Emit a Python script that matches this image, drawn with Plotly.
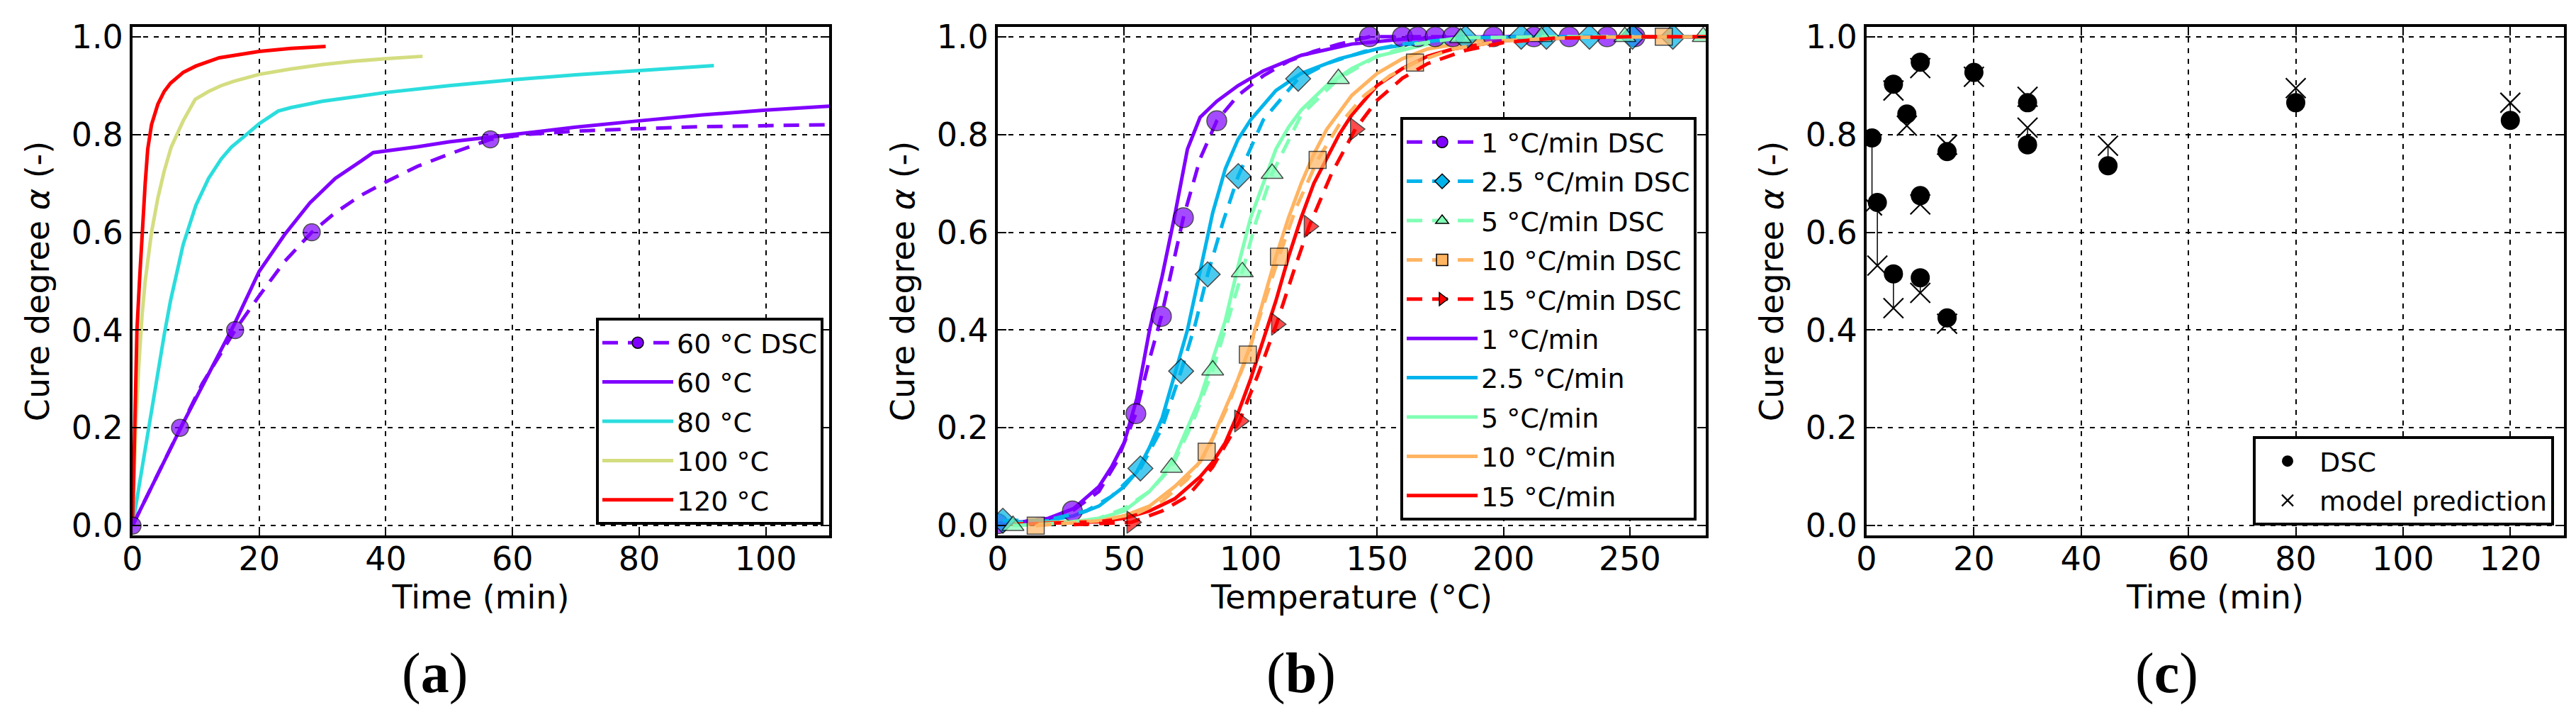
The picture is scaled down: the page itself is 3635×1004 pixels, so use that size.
import plotly.graph_objects as go

# ---------------- Panel (a): isothermal cure ----------------
a_t60_model = [0, 4, 8, 12, 16, 20, 24, 28, 32, 36, 38, 45, 50, 60, 70, 80, 90, 100, 110]
a_a60_model = [0, 0.105, 0.21, 0.31, 0.41, 0.52, 0.595, 0.66, 0.71, 0.745, 0.763, 0.775, 0.785,
               0.80, 0.815, 0.828, 0.84, 0.85, 0.858]
a_t80 = [0, 1, 2, 3, 4, 5, 6, 7, 8, 10, 12, 14, 15.6, 18, 20, 23, 25, 30, 40, 50, 60, 70, 80, 91.8]
a_a80 = [0, 0.08, 0.16, 0.24, 0.32, 0.39, 0.46, 0.52, 0.575, 0.655, 0.71, 0.75, 0.774, 0.80,
         0.822, 0.848, 0.855, 0.868, 0.886, 0.90, 0.912, 0.922, 0.93, 0.941]
a_t100 = [0, 0.5, 1, 1.5, 2, 3, 4, 5, 6.1, 7, 8, 9.9, 12, 14, 16, 20, 25, 30, 35, 40, 45.8]
a_a100 = [0, 0.2, 0.33, 0.43, 0.5, 0.6, 0.67, 0.725, 0.774, 0.80, 0.828, 0.872, 0.888, 0.90,
          0.909, 0.923, 0.934, 0.943, 0.95, 0.955, 0.96]
a_t120 = [0, 0.3, 0.7, 1.1, 1.5, 2.0, 2.4, 3, 4, 5, 6, 8, 10, 13.7, 20, 25, 30.5]
a_a120 = [0, 0.2, 0.4, 0.5, 0.6, 0.7, 0.77, 0.82, 0.862, 0.888, 0.905, 0.927, 0.94, 0.957,
          0.97, 0.976, 0.98]
a_dsc60_t = [0, 3, 7.5, 11, 16.2, 20, 24, 28.3, 32, 36, 40, 45, 50, 56.5, 62, 70, 80, 90, 100, 110]
a_dsc60_a = [0, 0.08, 0.2, 0.29, 0.4, 0.47, 0.54, 0.6, 0.64, 0.675, 0.703, 0.735, 0.76, 0.79,
             0.80, 0.807, 0.812, 0.816, 0.818, 0.82]
a_dsc60_marks = [0, 7.5, 16.2, 28.3, 56.5]

# ---------------- Panel (b): dynamic (heating-rate) cure ----------------
b_m1_T = [0, 10, 20, 30, 40, 45, 50, 55, 60, 65, 70, 75, 80, 86.6, 95, 105, 120, 140, 160, 180, 200, 280]
b_m1_a = [0.005, 0.008, 0.015, 0.035, 0.08, 0.12, 0.17, 0.26, 0.40, 0.51, 0.635, 0.77, 0.835, 0.868,
          0.90, 0.93, 0.962, 0.985, 0.995, 0.999, 1.0, 1.0]
b_m25_T = [0, 20, 30, 40, 50, 55, 60, 65, 70, 75, 80, 85, 90, 95, 100, 110, 120, 135, 150, 170, 200, 280]
b_m25_a = [0.005, 0.01, 0.02, 0.04, 0.08, 0.11, 0.16, 0.22, 0.31, 0.40, 0.52, 0.64, 0.73, 0.79, 0.83,
           0.89, 0.925, 0.955, 0.975, 0.99, 0.998, 1.0]
b_m5_T = [0, 30, 40, 50, 60, 65, 70, 75, 80, 85, 90, 95, 100, 105, 110, 115, 120, 130, 140, 150, 170, 200, 280]
b_m5_a = [0.003, 0.008, 0.015, 0.03, 0.07, 0.1, 0.14, 0.2, 0.26, 0.34, 0.42, 0.53, 0.63, 0.70, 0.77,
          0.815, 0.85, 0.90, 0.935, 0.96, 0.985, 0.997, 1.0]
b_m10_T = [0, 40, 50, 60, 70, 80, 85, 90, 95, 100, 105, 110, 115, 120, 125, 130, 140, 150, 160, 170, 190, 220, 280]
b_m10_a = [0.002, 0.01, 0.02, 0.04, 0.08, 0.13, 0.18, 0.24, 0.30, 0.37, 0.46, 0.55, 0.63, 0.70, 0.76,
           0.81, 0.88, 0.925, 0.955, 0.975, 0.992, 0.999, 1.0]
b_m15_T = [0, 40, 50, 60, 70, 80, 85, 90, 95, 100, 105, 110, 115, 120, 125, 130, 135, 140, 150, 160,
           170, 180, 200, 230, 280]
b_m15_a = [0.002, 0.008, 0.015, 0.03, 0.055, 0.10, 0.13, 0.17, 0.23, 0.30, 0.38, 0.46, 0.55, 0.63,
           0.70, 0.75, 0.80, 0.84, 0.90, 0.935, 0.96, 0.975, 0.992, 0.999, 1.0]

b_d1_T = [0, 10, 20, 29.5, 40, 47, 54.6, 60, 64.7, 69, 73.4, 80, 86.6, 95, 105, 115, 125, 135,
          147, 160, 166, 173, 180, 196, 212, 226, 241, 252, 265, 280]
b_d1_a = [0.004, 0.008, 0.015, 0.03, 0.07, 0.13, 0.229, 0.34, 0.428, 0.53, 0.63, 0.75, 0.828, 0.88,
          0.92, 0.95, 0.97, 0.985, 1.0, 1.0, 1.0, 1.0, 1.0, 1.0, 1.0, 1.0, 1.0, 1.0, 1.0, 1.0]
b_d1_marks = [0, 29.5, 54.6, 64.7, 73.4, 86.6, 147, 160, 166, 173, 180, 196, 212, 226, 241, 252]
b_d25_T = [2, 20, 35, 45, 56.4, 65, 72.5, 78, 83, 89, 95.1, 105, 118.8, 130, 145, 160, 185, 207,
           217, 234, 251, 267, 280]
b_d25_a = [0.01, 0.012, 0.03, 0.06, 0.117, 0.2, 0.316, 0.41, 0.514, 0.62, 0.715, 0.83, 0.914, 0.945,
           0.97, 0.985, 0.998, 1.0, 1.0, 1.0, 1.0, 1.0, 1.0]
b_d25_marks = [2, 56.4, 72.5, 83, 95.1, 118.8, 185, 207, 217, 234, 251, 267]
b_d5_T = [6, 25, 40, 50, 60, 68.7, 77, 85, 91, 96.7, 102, 108.5, 120, 134.7, 150, 165, 183, 215, 248, 279]
b_d5_a = [0.0, 0.005, 0.015, 0.035, 0.07, 0.119, 0.21, 0.318, 0.42, 0.519, 0.62, 0.72, 0.84, 0.914,
          0.96, 0.985, 0.998, 1.0, 1.0, 1.0]
b_d5_marks = [6, 68.7, 85, 96.7, 108.5, 134.7, 183, 215, 248, 279]
b_d10_T = [15, 40, 55, 65, 75, 82.6, 91, 98.9, 105, 111.2, 118, 126.5, 135, 145, 155, 165, 180, 200,
           230, 263.4, 280]
b_d10_a = [0.0, 0.01, 0.025, 0.05, 0.095, 0.151, 0.245, 0.35, 0.45, 0.55, 0.65, 0.748, 0.82, 0.88,
           0.92, 0.947, 0.975, 0.992, 0.999, 1.0, 1.0]
b_d10_marks = [15, 82.6, 98.9, 111.2, 126.5, 165, 263.4]
b_d15_T = [30, 53, 65, 75, 85, 95.6, 103, 110.2, 117, 123.1, 132, 141.4, 150, 160, 170, 185, 200,
           220, 250, 280]
b_d15_a = [0.002, 0.007, 0.03, 0.06, 0.12, 0.214, 0.31, 0.412, 0.52, 0.612, 0.72, 0.811, 0.87, 0.915,
           0.945, 0.972, 0.988, 0.997, 1.0, 1.0]
b_d15_marks = [53, 95.6, 110.2, 123.1, 141.4]

# ---------------- Panel (c): validation ----------------
c_t = [1, 2, 5, 5, 7.5, 10, 10, 10, 15, 15, 20, 30, 30, 45, 80, 120]
c_dsc = [0.793, 0.661, 0.903, 0.515, 0.842, 0.948, 0.675, 0.507, 0.765, 0.425, 0.927, 0.865,
         0.779, 0.736, 0.865, 0.829]
c_model = [0.655, 0.532, 0.89, 0.445, 0.818, 0.936, 0.657, 0.476, 0.779, 0.413, 0.918, 0.877,
           0.814, 0.777, 0.895, 0.865]

# ---------------- Styling ----------------
W, H = 3635, 1004
FONT = "DejaVu Sans"
C0, C1, C2, C3 = "#8000ff", "#2bdddd", "#d4dd80", "#ff0000"
R1, R2, R3, R4, R5 = "#8000ff", "#00b4eb", "#80ffb4", "#ffb462", "#ff0000"
LW = 5
DASH = "22px,14px"

fig = go.Figure()


def dsc_traces(T, A, marks, color, symbol, size, name, xa, ya, legend, rank):
    msize = [size if t in marks else 0 for t in T]
    mlw = [1.5 if t in marks else 0 for t in T]
    data = go.Scatter(x=T, y=A, mode="lines+markers", name=name, showlegend=False,
                      legendgroup=name,
                      line=dict(color=color, width=LW, dash=DASH),
                      marker=dict(symbol=symbol, size=msize, color=color,
                                  line=dict(color="black", width=mlw)),
                      xaxis=xa, yaxis=ya)
    # legend entry (no data of its own) so the key shows line + full-size marker
    key = go.Scatter(x=[None], y=[None], mode="lines+markers", name=name, legendgroup=name,
                     line=dict(color=color, width=LW, dash=DASH),
                     marker=dict(symbol=symbol, size=16, color=color,
                                 line=dict(color="black", width=1.5)),
                     xaxis=xa, yaxis=ya, legend=legend, legendrank=rank)
    return [data, key]


def line_trace(T, A, color, name, xa, ya, legend, rank):
    return go.Scatter(x=T, y=A, mode="lines", name=name, line=dict(color=color, width=LW),
                      legendgroup=name, xaxis=xa, yaxis=ya, legend=legend, legendrank=rank)


# Panel (a)
fig.add_trace(line_trace(a_t60_model, a_a60_model, C0, "60 °C", "x", "y", "legend", 2))
fig.add_trace(line_trace(a_t80, a_a80, C1, "80 °C", "x", "y", "legend", 3))
fig.add_trace(line_trace(a_t100, a_a100, C2, "100 °C", "x", "y", "legend", 4))
fig.add_trace(line_trace(a_t120, a_a120, C3, "120 °C", "x", "y", "legend", 5))
fig.add_traces(dsc_traces(a_dsc60_t, a_dsc60_a, a_dsc60_marks, C0, "circle", 24,
                          "60 °C DSC", "x", "y", "legend", 1))

# Panel (b)
models_b = [(b_m1_T, b_m1_a, R1, "1 °C/min"), (b_m25_T, b_m25_a, R2, "2.5 °C/min"),
            (b_m5_T, b_m5_a, R3, "5 °C/min"), (b_m10_T, b_m10_a, R4, "10 °C/min"),
            (b_m15_T, b_m15_a, R5, "15 °C/min")]
for i, (T, A, col, nm) in enumerate(models_b):
    fig.add_trace(line_trace(T, A, col, nm, "x2", "y2", "legend2", 6 + i))
dsc_b = [(b_d1_T, b_d1_a, b_d1_marks, R1, "circle", 28, "1 °C/min DSC"),
         (b_d25_T, b_d25_a, b_d25_marks, R2, "diamond", 27, "2.5 °C/min DSC"),
         (b_d5_T, b_d5_a, b_d5_marks, R3, "triangle-up", 27, "5 °C/min DSC"),
         (b_d10_T, b_d10_a, b_d10_marks, R4, "square", 24, "10 °C/min DSC"),
         (b_d15_T, b_d15_a, b_d15_marks, R5, "triangle-right", 27, "15 °C/min DSC")]
for i, (T, A, mk, col, sym, sz, nm) in enumerate(dsc_b):
    fig.add_traces(dsc_traces(T, A, mk, col, sym, sz, nm, "x2", "y2", "legend2", 1 + i))

# Panel (c)
seg_x, seg_y = [], []
for t, d, m in zip(c_t, c_dsc, c_model):
    seg_x += [t, t, None]
    seg_y += [d, m, None]
fig.add_trace(go.Scatter(x=seg_x, y=seg_y, mode="lines", line=dict(color="black", width=1.5),
                         showlegend=False, xaxis="x3", yaxis="y3", hoverinfo="skip"))
fig.add_trace(go.Scatter(x=c_t, y=c_model, mode="markers", name="model prediction",
                         legendgroup="model",
                         marker=dict(symbol="x-thin", size=28, color="black",
                                     line=dict(color="black", width=2.2)),
                         xaxis="x3", yaxis="y3", legend="legend3", legendrank=2))
fig.add_trace(go.Scatter(x=c_t, y=c_dsc, mode="markers", name="DSC", legendgroup="dsc",
                         marker=dict(symbol="circle", size=27, color="black"),
                         xaxis="x3", yaxis="y3", legend="legend3", legendrank=1))

# ---------------- Axes ----------------
Y0, Y1 = 1 - 747 / H, 1 - 30 / H


def common_axis():
    return dict(showgrid=True, gridcolor="black", gridwidth=2, griddash="7px,8px",
                zeroline=False, showline=True, linecolor="black", linewidth=4,
                mirror="allticks", ticks="inside", ticklen=12, tickwidth=2, tickcolor="black",
                tickfont=dict(size=46, family=FONT, color="black"), automargin=False)


def xax(x0, x1, rng, dtick, title, anchor):
    d = common_axis()
    d.update(domain=[x0 / W, x1 / W], range=rng, dtick=dtick, tick0=0, anchor=anchor,
             ticklabelstandoff=-10,
             title=dict(text=title, font=dict(size=46, family=FONT, color="black"), standoff=0))
    return d


def yax(anchor):
    d = common_axis()
    d.update(domain=[Y0, Y1], range=[-0.02, 1.02], dtick=0.2, tick0=0, tickformat=".1f",
             anchor=anchor,
             title=dict(text="Cure degree <i>α</i> (-)",
                        font=dict(size=46, family=FONT, color="black"), standoff=18))
    return d


def legend_box(xr, yt, itemwidth):
    return dict(x=xr / W, y=1 - yt / H, xanchor="right", yanchor="top", xref="paper",
                yref="paper", bgcolor="white", bordercolor="black", borderwidth=4,
                font=dict(size=38, family=FONT, color="black"), itemwidth=itemwidth,
                tracegroupgap=3, traceorder="grouped", itemclick=False)


fig.update_layout(
    width=W, height=H, margin=dict(l=0, r=0, t=0, b=0),
    paper_bgcolor="white", plot_bgcolor="white",
    font=dict(family=FONT, color="black"),
    xaxis=xax(179, 1162, [0, 110], 20, "Time (min)", "y"),
    yaxis=yax("x"),
    xaxis2=xax(1400, 2399, [0, 280], 50, "Temperature (°C)", "y2"),
    yaxis2=yax("x2"),
    xaxis3=xax(2626, 3610, [0, 130], 20, "Time (min)", "y3"),
    yaxis3=yax("x3"),
    legend=legend_box(1154, 440, 100),
    legend2=legend_box(2386, 157, 100),
    legend3=legend_box(3596, 607, 80),
    annotations=[
        dict(text=f"(<b>{lab}</b>)", x=xc / W, y=1 - 941 / H, xref="paper", yref="paper",
             xanchor="center", yanchor="middle", showarrow=False,
             font=dict(size=80, family="Liberation Serif", color="black"))
        for lab, xc in (("a", 605), ("b", 1828), ("c", 3049))
    ],
)

fig.write_html("out.html")
